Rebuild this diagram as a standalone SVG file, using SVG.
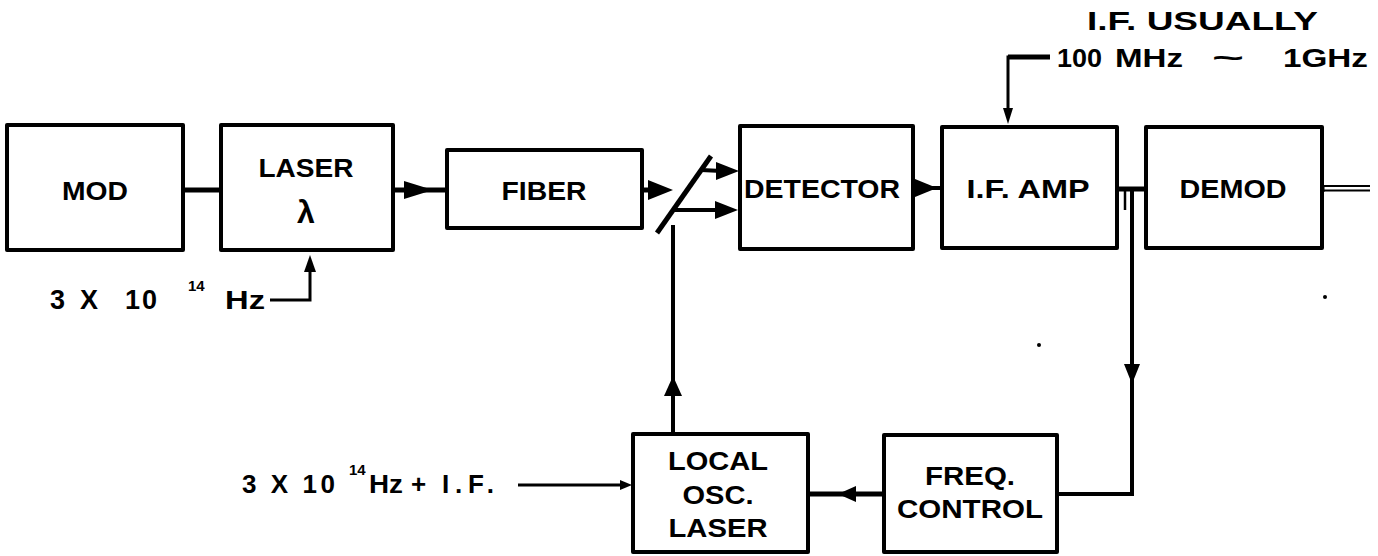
<svg xmlns="http://www.w3.org/2000/svg" width="1378" height="556" viewBox="0 0 1378 556">
<style>
.box{fill:#fff;stroke:#000;stroke-width:4;stroke-linejoin:round}
.t{font-family:"Liberation Sans",Arial,sans-serif;font-weight:bold;font-size:26px;fill:#000}
.c{text-anchor:middle}
.sup{font-family:"Liberation Sans",Arial,sans-serif;font-weight:bold;font-size:15px;fill:#000}
.w{fill:none;stroke:#000;stroke-linecap:butt;stroke-linejoin:miter}
.h{fill:#000;stroke:none}
</style>
<rect width="1378" height="556" fill="#fff"/>
<g id="connectors">
  <line class="w" x1="183" y1="190" x2="221" y2="190" stroke-width="5"/>
  <line class="w" x1="393" y1="190" x2="447" y2="190" stroke-width="5"/>
  <polygon class="h" points="404,181 433,190 404,199"/>
  <line class="w" x1="642" y1="190" x2="654" y2="190" stroke-width="5"/>
  <polygon class="h" points="648,180 673,190 648,200"/>
  <line class="w" x1="657" y1="233" x2="711" y2="156" stroke-width="5" stroke-linecap="round"/>
  <line class="w" x1="701" y1="170" x2="722" y2="171" stroke-width="4"/>
  <polygon class="h" points="716,162 739,171 716,180"/>
  <line class="w" x1="673" y1="210" x2="720" y2="210" stroke-width="4"/>
  <polygon class="h" points="715,201 738,210 715,219"/>
  <line class="w" x1="673" y1="434" x2="673" y2="225" stroke-width="4"/>
  <polygon class="h" points="664,396 673,376 682,396"/>
  <line class="w" x1="913" y1="188" x2="942" y2="188" stroke-width="4"/>
  <polygon class="h" points="915,179 937,188 915,197"/>
  <line class="w" x1="1117" y1="189" x2="1146" y2="189" stroke-width="5"/>
  <line class="w" x1="1125" y1="189" x2="1125" y2="210" stroke-width="2.5"/>
  <polyline class="w" points="1132,189 1132,494 1057,494" stroke-width="4"/>
  <polygon class="h" points="1124,364 1140,364 1132,384"/>
  <line class="w" x1="884" y1="494" x2="808" y2="494" stroke-width="5"/>
  <polygon class="h" points="856,486 838,494 856,502"/>
  <line class="w" x1="1322" y1="186" x2="1370" y2="186" stroke-width="1.8"/>
  <line class="w" x1="1322" y1="190.5" x2="1370" y2="190.5" stroke-width="1.8"/>
  <line class="w" x1="1323" y1="185" x2="1323" y2="192" stroke-width="3"/>
  <polyline class="w" points="270,300 310,300 310,268" stroke-width="3"/>
  <polygon class="h" points="304,272 310,255 316,272"/>
  <polyline class="w" points="1050,57 1008,57 1008,112" stroke-width="3"/>
  <line class="w" x1="1050" y1="57" x2="1008" y2="57" stroke-width="5"/>
  <polygon class="h" points="1003,108 1013,108 1008,124"/>
  <line class="w" x1="518" y1="485" x2="624" y2="485" stroke-width="3"/>
  <polygon class="h" points="620,480 632,485 620,490"/>
</g>
<g id="mod"><rect class="box" x="7" y="125" width="176" height="125"/><text class="t c" x="95" y="200" textLength="66" lengthAdjust="spacingAndGlyphs">MOD</text></g>
<g id="laser"><rect class="box" x="221" y="125" width="172" height="125"/><text class="t c" x="306" y="177" textLength="95" lengthAdjust="spacingAndGlyphs">LASER</text><text class="t c" x="306" y="223" style="font-size:32px">λ</text></g>
<g id="fiber"><rect class="box" x="447" y="150" width="195" height="78"/><text class="t c" x="544" y="200" textLength="85" lengthAdjust="spacingAndGlyphs">FIBER</text></g>
<g id="detector"><rect class="box" x="740" y="126" width="173" height="123"/><text class="t c" x="822" y="198" textLength="156" lengthAdjust="spacingAndGlyphs">DETECTOR</text></g>
<g id="ifamp"><rect class="box" x="942" y="127" width="175" height="121"/><text class="t c" x="1028" y="198" textLength="123" lengthAdjust="spacingAndGlyphs">I.F. AMP</text></g>
<g id="demod"><rect class="box" x="1146" y="127" width="176" height="121"/><text class="t c" x="1233" y="198" textLength="107" lengthAdjust="spacingAndGlyphs">DEMOD</text></g>
<g id="localosc"><rect class="box" x="633" y="434" width="175" height="118"/><text class="t c" x="718" y="470" textLength="100" lengthAdjust="spacingAndGlyphs">LOCAL</text><text class="t c" x="718" y="504" textLength="71" lengthAdjust="spacingAndGlyphs">OSC.</text><text class="t c" x="718" y="537" textLength="99" lengthAdjust="spacingAndGlyphs">LASER</text></g>
<g id="freqcontrol"><rect class="box" x="884" y="435" width="173" height="117"/><text class="t c" x="970" y="485" textLength="90" lengthAdjust="spacingAndGlyphs">FREQ.</text><text class="t c" x="970" y="518" textLength="146" lengthAdjust="spacingAndGlyphs">CONTROL</text></g>
<g id="if-note">
  <text class="t" x="1087" y="30" textLength="231" lengthAdjust="spacingAndGlyphs">I.F. USUALLY</text>
  <text class="t" x="1057" y="67" textLength="45" lengthAdjust="spacingAndGlyphs">100</text>
  <text class="t" x="1115" y="67" textLength="68" lengthAdjust="spacingAndGlyphs">MHz</text>
  <text class="t" x="1212" y="67" textLength="32" lengthAdjust="spacingAndGlyphs">~</text>
  <text class="t" x="1283" y="67" textLength="85" lengthAdjust="spacingAndGlyphs">1GHz</text>
</g>
<g id="carrier-label"><text class="t" x="50 66 80 97 125 142" y="309" style="font-size:27px">3 X 10</text><text class="sup" x="188" y="291">14</text><text class="t" x="225" y="309" textLength="40" lengthAdjust="spacingAndGlyphs">Hz</text></g>
<g id="lo-label"><text class="t" x="242" y="493" textLength="93" lengthAdjust="spacing">3 X 10</text><text class="sup" x="349" y="475">14</text><text class="t" x="369" y="493" textLength="34" lengthAdjust="spacingAndGlyphs">Hz</text><text class="t" x="411" y="493">+</text><text class="t" x="442" y="493" textLength="52" lengthAdjust="spacing">I.F.</text></g>
<circle cx="1039" cy="345" r="2"/>
<circle cx="1325" cy="297" r="2"/>
</svg>
